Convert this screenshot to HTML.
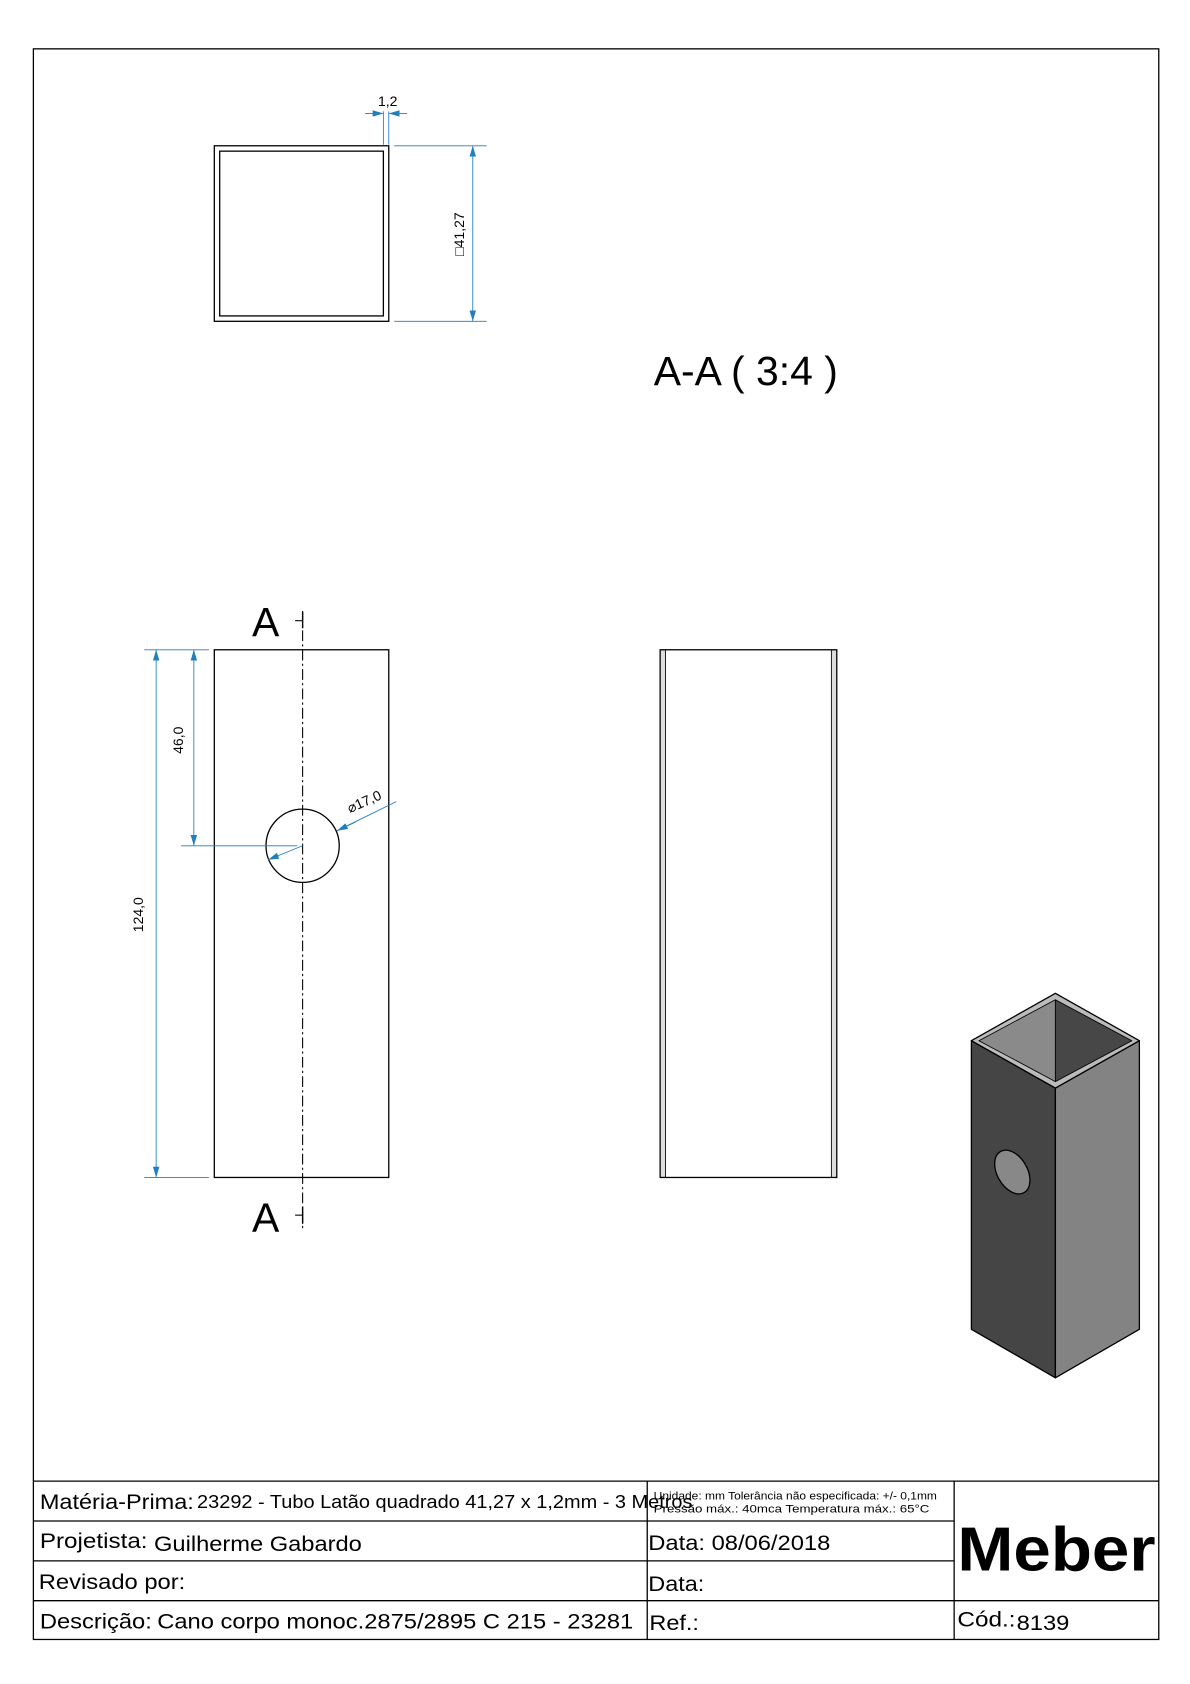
<!DOCTYPE html>
<html><head><meta charset="utf-8"><style>
html,body{margin:0;padding:0;background:#fff;}
svg{display:block;}
text{font-family:"Liberation Sans",Arial,sans-serif;fill:#000;}
</style></head><body>
<svg width="1190" height="1684" viewBox="0 0 1105 1563" xmlns="http://www.w3.org/2000/svg">
<defs>
<marker id="ar" viewBox="0 0 10 6" refX="10" refY="3" markerWidth="10" markerHeight="6" orient="auto-start-reverse" markerUnits="userSpaceOnUse"><path d="M0,0 L10,3 L0,6 z" fill="#1f7fbf"/></marker>
</defs>
<rect x="31" y="45" width="1045" height="1477" fill="none" stroke="#000" stroke-width="1.2"/>
<g stroke="#000" stroke-width="1.2" fill="none">
<line x1="31" y1="1375" x2="1076" y2="1375"/>
<line x1="31" y1="1412" x2="886" y2="1412"/>
<line x1="31" y1="1449" x2="886" y2="1449"/>
<line x1="31" y1="1486" x2="1076" y2="1486"/>
<line x1="601" y1="1375" x2="601" y2="1522"/>
<line x1="886" y1="1375" x2="886" y2="1522"/>
</g>
<text x="37" y="1401" font-size="20" textLength="143" lengthAdjust="spacingAndGlyphs">Matéria-Prima:</text>
<text x="183" y="1400" font-size="17" textLength="460" lengthAdjust="spacingAndGlyphs">23292 - Tubo Latão quadrado 41,27 x 1,2mm - 3 Metros</text>
<text x="607" y="1392" font-size="10" textLength="263" lengthAdjust="spacingAndGlyphs">Unidade: mm Tolerância não especificada: +/- 0,1mm</text>
<text x="607" y="1404" font-size="10" textLength="256" lengthAdjust="spacingAndGlyphs">Pressão máx.: 40mca        Temperatura máx.: 65°C</text>
<text x="37" y="1437" font-size="20" textLength="100" lengthAdjust="spacingAndGlyphs">Projetista:</text>
<text x="143" y="1440" font-size="20" textLength="193" lengthAdjust="spacingAndGlyphs">Guilherme Gabardo</text>
<text x="36" y="1475" font-size="20" textLength="136" lengthAdjust="spacingAndGlyphs">Revisado por:</text>
<text x="602" y="1439" font-size="20" textLength="169" lengthAdjust="spacingAndGlyphs">Data: 08/06/2018</text>
<text x="602" y="1477" font-size="20" textLength="52" lengthAdjust="spacingAndGlyphs">Data:</text>
<text x="37" y="1512" font-size="20" textLength="104" lengthAdjust="spacingAndGlyphs">Descrição:</text>
<text x="146" y="1512" font-size="20" textLength="442" lengthAdjust="spacingAndGlyphs">Cano corpo monoc.2875/2895 C 215 - 23281</text>
<text x="603" y="1513" font-size="20" textLength="46" lengthAdjust="spacingAndGlyphs">Ref.:</text>
<text x="889" y="1510" font-size="20" textLength="54" lengthAdjust="spacingAndGlyphs">Cód.:</text>
<text x="944" y="1513" font-size="20" textLength="49" lengthAdjust="spacingAndGlyphs">8139</text>
<text x="889" y="1458" font-size="58" font-weight="bold" textLength="184" lengthAdjust="spacingAndGlyphs">Meber</text>
<rect x="199" y="135" width="162" height="163" fill="none" stroke="#000" stroke-width="1.2"/>
<rect x="204" y="140" width="152" height="153" fill="none" stroke="#000" stroke-width="1.2"/>
<g stroke="#1f7fbf" stroke-width="0.8" fill="none">
<line x1="356" y1="103" x2="356" y2="134"/>
<line x1="361" y1="103" x2="361" y2="134"/>
<line x1="339" y1="105" x2="356" y2="105" marker-end="url(#ar)"/>
<line x1="378" y1="105" x2="361" y2="105" marker-end="url(#ar)"/>
<line x1="366" y1="135" x2="452" y2="135"/>
<line x1="366" y1="298" x2="452" y2="298"/>
<line x1="439" y1="135" x2="439" y2="298" marker-start="url(#ar)" marker-end="url(#ar)"/>
</g>
<text x="360" y="98" font-size="13" text-anchor="middle">1,2</text>
<text transform="translate(431,217) rotate(-90)" font-size="13" text-anchor="middle">□41,27</text>
<text x="607" y="357" font-size="38">A-A ( 3:4 )</text>
<rect x="199" y="603" width="162" height="490" fill="none" stroke="#000" stroke-width="1.2"/>
<line x1="281" y1="567" x2="281" y2="1140" stroke="#000" stroke-width="1" stroke-dasharray="10,3,2,3"/>
<circle cx="281" cy="785" r="34" fill="none" stroke="#000" stroke-width="1.2"/>
<text x="234" y="590" font-size="38">A</text>
<line x1="274" y1="576" x2="281" y2="576" stroke="#000"/>
<line x1="281" y1="568" x2="281" y2="583" stroke="#000" stroke-width="1.3"/>
<text x="234" y="1143" font-size="38">A</text>
<line x1="274" y1="1128" x2="281" y2="1128" stroke="#000"/>
<line x1="281" y1="1120" x2="281" y2="1136" stroke="#000" stroke-width="1.3"/>
<g stroke="#1f7fbf" stroke-width="0.8" fill="none">
<line x1="134" y1="603" x2="194" y2="603"/>
<line x1="134" y1="1093" x2="194" y2="1093"/>
<line x1="168" y1="785" x2="276" y2="785"/>
<line x1="180" y1="603" x2="180" y2="785" marker-start="url(#ar)" marker-end="url(#ar)"/>
<line x1="145" y1="603" x2="145" y2="1093" marker-start="url(#ar)" marker-end="url(#ar)"/>
<line x1="281" y1="785" x2="249" y2="798" marker-end="url(#ar)"/>
<line x1="368" y1="744" x2="313" y2="771"/>
<line x1="330" y1="763" x2="313" y2="771" marker-end="url(#ar)"/>
</g>
<text transform="translate(170,687) rotate(-90)" font-size="13" text-anchor="middle">46,0</text>
<text transform="translate(133,849) rotate(-90)" font-size="13" text-anchor="middle">124,0</text>
<text transform="translate(340,748) rotate(-24)" font-size="13" text-anchor="middle">⌀17,0</text>
<rect x="613.5" y="603" width="4.5" height="490" fill="#ddd"/>
<rect x="772" y="603" width="4.5" height="490" fill="#ddd"/>
<rect x="613" y="603" width="164" height="490" fill="none" stroke="#000" stroke-width="1.2"/>
<line x1="618" y1="603" x2="618" y2="1093" stroke="#000" stroke-width="0.8"/>
<line x1="772" y1="603" x2="772" y2="1093" stroke="#000" stroke-width="0.8"/>
<g stroke="#000" stroke-width="1.2" stroke-linejoin="round">
<polygon points="902,966 980,1010 980,1279 902,1234" fill="#454545"/>
<polygon points="980,1010 1058,966 1058,1234 980,1279" fill="#838383"/>
<polygon points="980,922 1058,966 980,1010 902,966" fill="#bbb"/>
<polygon points="980,928 980,1004 909,966" fill="#8a8a8a" stroke-width="0.8"/>
<polygon points="980,928 1051,966 980,1004" fill="#474747" stroke-width="0.8"/>
<ellipse cx="940" cy="1088" rx="14" ry="22" transform="rotate(-30 940 1088)" fill="#888"/>
</g>
</svg>
</body></html>
